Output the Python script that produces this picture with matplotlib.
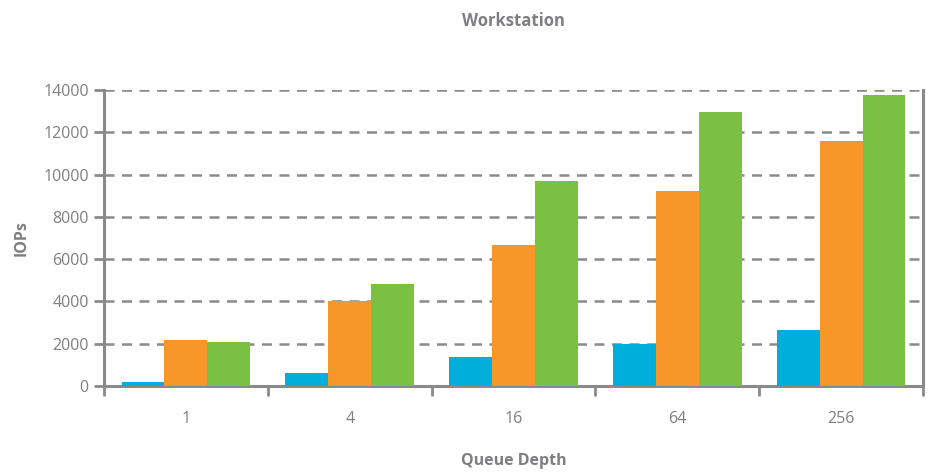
import numpy as np
import matplotlib.pyplot as plt

plt.rcParams['font.family'] = ['Open Sans', 'DejaVu Sans']

queue_depth = ['1', '4', '16', '64', '256']
series_a = [190, 600, 1350, 1990, 2650]
series_b = [2180, 4000, 6650, 9220, 11590]
series_c = [2080, 4820, 9700, 12960, 13760]
colors = ['#00AEDB', '#F7972A', '#7AC143']
gray = '#8a8a8c'
text_gray = '#7f7f82'

fig = plt.figure(figsize=(9.33, 4.72), dpi=100)
ax = fig.add_axes([0.1115, 0.1822, 0.8778, 0.6271])

x = np.arange(len(queue_depth))
w = 0.262
for i, vals in enumerate([series_a, series_b, series_c]):
    ax.bar(x + (i - 1) * w, vals, width=w, color=colors[i], zorder=3)

ax.set_xlim(-0.5, len(queue_depth) - 0.5)
ax.set_ylim(0, 14000)
ax.set_yticks(range(0, 14001, 2000))
ax.yaxis.grid(True, linestyle=(0, (4, 3)), color=gray, linewidth=1.8, zorder=0)

ax.set_xticks(x)
ax.set_xticklabels(queue_depth)
ax.set_xticks(np.arange(-0.5, len(queue_depth)), minor=True)
ax.tick_params(axis='x', which='major', length=0, pad=18, labelsize=11.5, labelcolor=text_gray)
ax.tick_params(axis='x', which='minor', length=7, width=2, color=gray, direction='out')
ax.tick_params(axis='y', length=7, width=2, color=gray, labelsize=11.5, labelcolor=text_gray, pad=4)

for side in ['left', 'bottom', 'right']:
    ax.spines[side].set_color(gray)
    ax.spines[side].set_linewidth(2.2)
ax.spines['top'].set_visible(False)

ax.set_title('Workstation', fontsize=12, fontweight='bold', color=text_gray, pad=46)
ax.set_xlabel('Queue Depth', fontsize=11.5, fontweight='bold', color=text_gray, labelpad=19)
ax.set_ylabel('IOPs', fontsize=11.5, fontweight='bold', color=text_gray, labelpad=10)

fig.savefig('out.png', dpi=100)
